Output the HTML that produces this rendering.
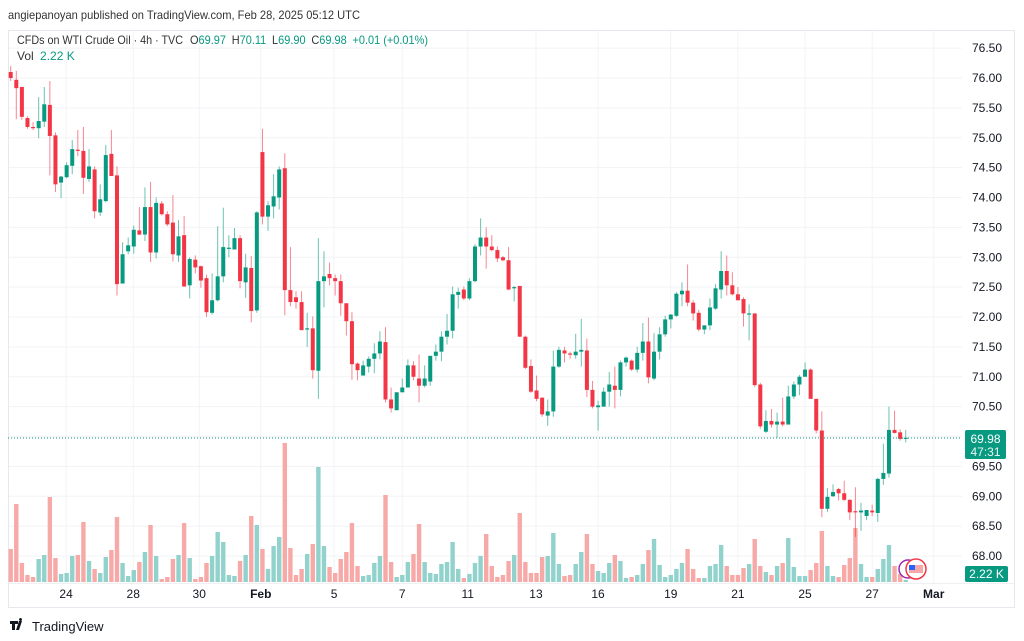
<!DOCTYPE html>
<html><head><meta charset="utf-8">
<style>
html,body{margin:0;padding:0;background:#fff;width:1024px;height:641px;overflow:hidden;font-family:"Liberation Sans",sans-serif;}
svg{position:absolute;left:0;top:0;}
</style></head>
<body>
<svg id="chart" width="1024" height="641" viewBox="0 0 1024 641" xmlns="http://www.w3.org/2000/svg">
  <text x="8" y="19" font-size="12" fill="#333" textLength="352" lengthAdjust="spacingAndGlyphs">angiepanoyan published on TradingView.com, Feb 28, 2025 05:12 UTC</text>
  <rect x="8.5" y="30.5" width="1006" height="577" fill="none" stroke="#e6e8ee"/>
  <g id="grid"></g>
  <g id="vols"></g>
  <g id="candles"></g>
  <line x1="8" x2="962" y1="438" y2="438" stroke="#089981" stroke-width="1" stroke-dasharray="1,2"/>
  <g id="yaxis"></g>
  <g id="xaxis"></g>
  <g font-size="12">
    <text x="17" y="44" fill="#333" textLength="166" lengthAdjust="spacingAndGlyphs">CFDs on WTI Crude Oil · 4h · TVC</text>
    <text x="190" y="44" fill="#089981" textLength="238" lengthAdjust="spacingAndGlyphs"><tspan fill="#333">O</tspan>69.97 <tspan fill="#333" dx="3">H</tspan>70.11 <tspan fill="#333" dx="3">L</tspan>69.90 <tspan fill="#333" dx="3">C</tspan>69.98 <tspan dx="3">+0.01 (+0.01%)</tspan></text>
    <text x="17" y="60" fill="#333">Vol <tspan fill="#089981" dx="3">2.22 K</tspan></text>
  </g>
  <rect x="965" y="430" width="41" height="29" rx="2" fill="#089981"/>
  <text x="985.5" y="443" font-size="12" fill="#fff" text-anchor="middle">69.98</text>
  <text x="985.5" y="456" font-size="12" fill="#e8f6f3" text-anchor="middle">47:31</text>
  <rect x="965" y="566" width="43" height="16" rx="2" fill="#089981"/>
  <text x="986.5" y="578" font-size="12" fill="#fff" text-anchor="middle">2.22 K</text>
  <circle cx="908" cy="569" r="9" fill="#fff" stroke="#9c27b0" stroke-width="1.5"/>
  <circle cx="916" cy="569" r="10" fill="#fff" stroke="#f23645" stroke-width="1.5"/>
  <rect x="909" y="565" width="14" height="8" fill="#f7a9a7"/>
  <rect x="909" y="565" width="6" height="5" fill="#2962ff"/>
  <g>
    <path d="M10 621h8v3h-3v6h-3v-6h-2z M19 621h3l-3 9h-3z M20.5 621a1.5 1.5 0 1 1 0.01 0z" fill="#131722"/>
    <text x="32" y="631" font-size="13" fill="#131722">TradingView</text>
  </g>
</svg>
<script>
const opens=[76.1,75.97,75.85,75.33,75.18,75.16,75.27,75.55,75.04,74.25,74.34,74.53,74.8,74.78,74.31,74.47,73.75,73.94,74.73,74.37,72.56,73.1,73.18,73.45,73.38,73.84,73.08,73.9,73.72,73.58,73.03,73.37,72.53,72.96,72.85,72.65,72.07,72.28,72.68,73.14,73.13,73.32,72.58,72.82,72.11,74.76,73.68,73.85,74.0,74.49,72.45,72.33,72.25,71.79,71.81,71.1,72.6,72.72,72.65,72.6,72.23,71.93,71.22,71.02,71.17,71.3,71.39,71.58,70.62,70.44,70.74,70.82,71.19,70.97,70.85,70.92,71.35,71.42,71.67,71.77,72.37,72.46,72.31,72.6,73.18,73.33,73.18,73.12,73.0,72.95,72.48,72.52,71.67,71.18,70.77,70.65,70.35,70.42,71.17,71.44,71.39,71.36,71.42,71.44,70.78,70.49,70.5,70.75,70.85,70.78,71.24,71.27,71.12,71.4,71.59,70.97,71.42,71.71,71.96,72.02,72.38,72.44,72.24,72.07,71.79,71.86,72.14,72.46,72.77,72.53,72.38,72.3,72.04,72.06,70.87,70.08,70.26,70.2,70.25,70.2,70.67,70.87,71.0,71.12,70.63,70.1,68.79,69.0,69.12,69.05,68.94,68.75,68.73,68.67,68.76,68.72,69.29,69.38,70.11,70.07,69.97];
const highs=[76.2,76.12,75.85,75.36,75.26,75.68,75.85,75.95,75.09,74.36,74.59,74.96,75.13,75.18,74.81,74.52,74.22,74.88,75.13,74.52,73.25,73.33,73.53,73.84,74.17,74.26,74.0,73.94,73.77,74.04,73.62,73.69,73.0,73.03,72.86,72.71,72.73,73.52,73.83,73.37,73.49,73.37,73.06,73.02,73.77,75.15,73.94,74.39,74.52,74.74,73.17,72.43,72.43,72.07,72.01,73.32,73.1,72.91,72.71,72.71,72.23,72.08,71.24,71.27,71.34,71.56,71.76,71.83,70.82,70.74,70.97,71.29,71.26,71.37,71.19,71.35,71.54,71.76,72.05,72.51,72.49,72.51,72.65,73.22,73.65,73.5,73.37,73.18,73.02,73.17,72.52,72.52,71.69,71.29,71.02,70.65,70.62,71.44,71.5,71.5,71.42,71.72,71.97,71.64,70.93,70.6,70.82,71.08,71.17,71.27,71.34,71.29,71.5,71.9,71.99,71.73,71.83,72.02,72.05,72.42,72.58,72.88,72.28,72.12,71.86,72.31,72.55,73.1,73.03,72.75,72.5,72.33,72.21,72.06,70.9,70.44,70.46,70.4,70.65,70.85,70.92,71.03,71.24,71.14,70.63,70.42,69.14,69.2,69.14,69.26,68.95,69.15,68.89,68.77,68.86,69.31,69.88,70.5,70.43,70.12,70.11];
const lows=[75.95,75.31,75.3,75.15,75.13,74.99,75.18,74.37,74.09,73.99,74.32,74.39,74.69,74.06,74.26,73.65,73.69,73.92,74.36,72.36,72.56,73.05,73.06,73.37,73.27,72.92,72.98,73.7,73.52,72.93,72.92,72.51,72.31,72.73,72.49,72.0,72.04,72.26,72.58,73.0,73.13,72.48,72.32,71.91,72.07,73.55,73.44,73.65,73.8,72.03,72.18,72.14,71.78,71.5,70.97,70.63,72.16,72.53,72.36,72.02,71.69,70.95,70.94,71.02,71.07,71.06,71.29,70.57,70.4,70.44,70.74,70.82,70.94,70.57,70.82,70.85,71.27,71.26,71.54,71.64,72.14,72.28,72.28,72.58,73.03,72.81,73.1,72.92,72.93,72.45,72.26,71.67,71.13,70.73,70.59,70.33,70.18,70.33,71.15,71.24,71.3,71.3,71.17,70.66,70.47,70.1,70.5,70.5,70.47,70.67,71.17,71.1,71.07,71.27,70.89,70.94,71.29,71.67,71.81,72.0,72.18,72.18,71.94,71.76,71.71,71.78,72.12,72.31,72.36,72.36,72.28,71.84,71.61,70.83,70.13,70.06,70.15,69.98,70.17,70.2,70.63,70.69,71.0,70.63,70.05,68.65,68.74,68.99,68.93,68.92,68.6,68.32,68.42,68.6,68.67,68.57,69.19,69.31,70.05,69.93,69.9];
const closes=[76.0,75.83,75.35,75.18,75.16,75.28,75.56,75.03,74.22,74.35,74.54,74.81,74.78,74.33,74.52,73.77,73.97,74.71,74.36,72.55,73.05,73.2,73.46,73.38,73.84,73.08,73.91,73.72,73.55,73.05,73.35,72.51,72.97,72.83,72.61,72.08,72.28,72.68,73.17,73.16,73.32,72.6,72.83,72.1,73.75,73.68,73.87,74.02,74.47,72.45,72.25,72.25,71.78,71.81,71.11,72.6,72.68,72.65,72.6,72.23,71.93,71.21,71.11,71.19,71.3,71.39,71.59,70.62,70.47,70.74,70.82,71.19,71.0,70.85,70.97,71.35,71.42,71.67,71.77,72.38,72.42,72.31,72.6,73.18,73.33,73.18,73.12,72.98,72.95,72.46,72.5,71.67,71.15,70.75,70.63,70.37,70.42,71.17,71.45,71.39,71.37,71.42,71.45,70.78,70.5,70.52,70.75,70.87,70.78,71.24,71.32,71.12,71.4,71.59,70.99,71.42,71.71,71.96,72.04,72.39,72.44,72.24,72.06,71.79,71.86,72.16,72.48,72.77,72.53,72.38,72.28,72.06,72.06,70.86,70.17,70.26,70.2,70.25,70.2,70.67,70.87,71.0,71.12,70.63,70.1,68.79,68.99,69.07,69.05,68.94,68.73,68.73,68.76,68.77,68.73,69.29,69.39,70.11,70.06,69.96,69.98];
const volumes=[33,78,19,7,5,23,27,85,24,8,9,26,27,60,21,13,9,25,32,65,19,6,12,20,30,57,26,3,5,23,27,59,24,3,5,19,26,50,40,7,6,21,27,66,57,33,13,36,45,139,34,7,13,28,38,115,36,15,9,23,30,59,16,6,7,19,26,87,20,5,7,20,28,58,20,9,8,18,20,40,13,4,8,19,26,48,16,5,7,21,27,69,20,9,9,25,26,49,18,6,7,18,30,48,18,11,9,19,27,21,4,5,7,18,32,43,17,5,7,13,19,33,13,4,4,16,18,37,16,7,7,14,18,43,16,10,7,16,19,44,15,6,6,12,19,51,16,6,5,17,24,54,18,5,5,13,23,37,16,8,2];
const priceTicks=[68,68.5,69,69.5,70,70.5,71,71.5,72,72.5,73,73.5,74,74.5,75,75.5,76,76.5];
const timeTickLabels=["24","28","30","Feb","5","7","11","13","16","19","21","25","27","Mar"];
const timeTickIndex=[9.9,21.9,33.7,44.7,57.8,70,81.7,93.9,105,118,130,142,154,165];

const NS="http://www.w3.org/2000/svg";
const X=i=>10.7+i*5.594;
const Y=p=>556-(p-68)*59.75;
const VY=v=>582-v*1.0;
function mk(tag,attrs,parent){const e=document.createElementNS(NS,tag);for(const k in attrs)e.setAttribute(k,attrs[k]);parent.appendChild(e);return e;}
const grid=document.getElementById('grid'),vols=document.getElementById('vols'),cg=document.getElementById('candles'),ya=document.getElementById('yaxis'),xa=document.getElementById('xaxis');

priceTicks.forEach(p=>{
  const l=mk('line',{x1:9,x2:962,y1:Y(p),y2:Y(p),stroke:'#f2f3f6'},grid);
  
  
  const t=mk('text',{x:972,y:Y(p)+4,'font-size':12,fill:'#131722'},ya);
  t.textContent=p.toFixed(2);
  
  
});
timeTickIndex.forEach((ti,k)=>{
  const l=mk('line',{x1:X(ti),x2:X(ti),y1:31,y2:583,stroke:'#f2f3f6'},grid);
  
  
  const lab=timeTickLabels[k];
  const bold=(lab==="Feb"||lab==="Mar");
  const t=mk('text',{x:X(ti),y:598,'font-size':12,fill:'#131722','text-anchor':'middle','font-weight':bold?'bold':'normal'},xa);
  t.textContent=lab;
  
  
});
mk('line',{x1:9,x2:1014,y1:583.5,y2:583.5,stroke:'#eef0f4'},grid);

volumes.forEach((v,i)=>{
  const up=closes[i]>=opens[i];
  const r=mk('rect',{x:X(i)-2.2,y:VY(v),width:4.4,height:582-VY(v),fill:up?'#92d2cc':'#f7a9a7'},vols);
  
  
});
opens.forEach((o,i)=>{
  const c=closes[i],up=c>=o,col=up?'#089981':'#f23645';
  const g=mk('g',{},cg);
  
  
  mk('line',{x1:X(i),x2:X(i),y1:Y(highs[i]),y2:Y(lows[i]),stroke:col,'stroke-width':1,'stroke-opacity':0.6},g);
  const top=Y(Math.max(o,c)),bot=Y(Math.min(o,c));
  mk('rect',{x:X(i)-2,y:top,width:4,height:Math.max(1.2,bot-top),fill:col},g);
});
</script>
</body></html>
